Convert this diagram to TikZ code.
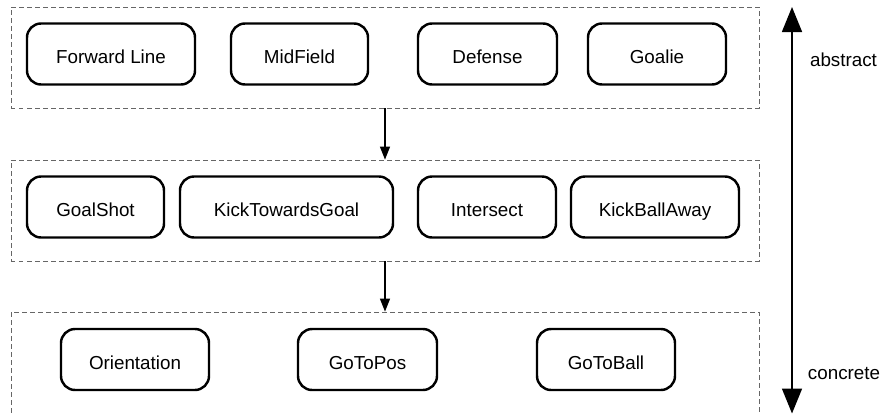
\documentclass[tikz,border=0pt]{standalone}
\usepackage{fontspec}
\setmainfont{Liberation Sans}
\usetikzlibrary{arrows.meta}

\begin{document}
\begin{tikzpicture}[
  font=\fontsize{10.7}{13}\selectfont,
  bhv/.style={draw=black,line width=1.4pt,rounded corners=8pt,align=center,
              minimum height=1.22cm,inner sep=2pt,text height=1.15em,text depth=0.05em},
  lyr/.style={draw=black!60,line width=0.45pt,dash pattern=on 0.09cm off 0.07cm,
              minimum width=14.96cm,minimum height=2.02cm,inner sep=0pt},
  ar/.style={-{Triangle[length=2.6mm,width=2.0mm]},line width=0.8pt},
  big/.style={{Triangle[length=5mm,width=4mm]}-{Triangle[length=5mm,width=4mm]},line width=0.9pt},
]
\useasboundingbox (0,0) rectangle (17.7,-8.28);

% layer frames
\node[lyr] (l1) at (7.70,-1.15) {};
\node[lyr] (l2) at (7.70,-4.21) {};
\node[lyr,minimum height=2.4cm] (l3) at (7.70,-7.44) {};

% row 1 -- team roles
\node[bhv,minimum width=3.36cm] (r1) at (2.22,-1.08)  {Forward Line};
\node[bhv,minimum width=2.74cm] (r2) at (5.99,-1.08)  {MidField};
\node[bhv,minimum width=2.78cm] (r3) at (9.75,-1.08)  {Defense};
\node[bhv,minimum width=2.76cm] (r4) at (13.14,-1.08) {Goalie};
% row 2 -- skills
\node[bhv,minimum width=2.74cm] (s1) at (1.91,-4.14)  {GoalShot};
\node[bhv,minimum width=4.26cm] (s2) at (5.73,-4.14)  {KickTowardsGoal};
\node[bhv,minimum width=2.76cm] (s3) at (9.74,-4.14)  {Intersect};
\node[bhv,minimum width=3.36cm] (s4) at (13.10,-4.14) {KickBallAway};
% row 3 -- primitives
\node[bhv,minimum width=2.96cm] (p1) at (2.70,-7.19)  {Orientation};
\node[bhv,minimum width=2.78cm] (p2) at (7.35,-7.19)  {GoToPos};
\node[bhv,minimum width=2.76cm] (p3) at (12.12,-7.19) {GoToBall};

\draw[ar] (l1.south) -- (l2.north);
\draw[ar] (l2.south) -- (l3.north);

% abstraction scale
\coordinate (top) at (15.84,-0.14);
\coordinate (bot) at (15.84,-8.27);
\draw[big] (top) -- (bot);
\node (abs) at (16.87,-1.20) {abstract};
\node (con) at (16.88,-7.48) {concrete};
\end{tikzpicture}
\end{document}
